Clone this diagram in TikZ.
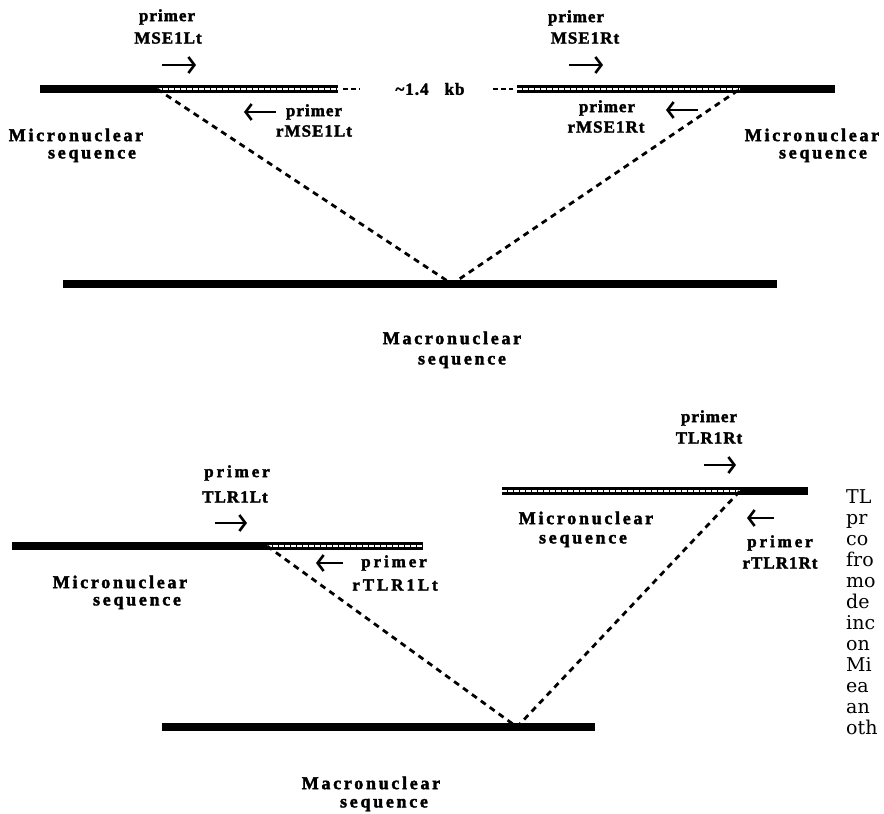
\documentclass[tikz,border=0pt]{standalone}
\usepackage{fontspec}
\usetikzlibrary{arrows.meta}
\setmainfont{Liberation Serif}
\newfontfamily\seqfont[LetterSpace=15, BoldFeatures={FakeBold=2}]{Liberation Serif}
\newfontfamily\prmfont[LetterSpace=6, BoldFeatures={FakeBold=2}]{Liberation Serif}
\newfontfamily\prmwfont[LetterSpace=17, BoldFeatures={FakeBold=2}]{Liberation Serif}
\newfontfamily\capfont{DejaVu Serif}

\begin{document}
\begin{tikzpicture}[x=1pt,y=-1pt,
    seq/.style={font=\seqfont\bfseries\fontsize{18}{21}\selectfont, inner sep=0pt},
    prm/.style={font=\prmfont\bfseries\fontsize{17}{20}\selectfont, inner sep=0pt},
    prmw/.style={font=\prmwfont\bfseries\fontsize{17}{20}\selectfont, inner sep=0pt},
    solidbar/.style={line width=8pt},
    hollowbar/.style={white, line width=2.2pt, dash pattern=on 4.5pt off 1.5pt,
      preaction={draw=black, solid, line width=7.5pt}},
    conn/.style={line width=2.8pt, dash pattern=on 6pt off 5pt},
    gapdash/.style={line width=2.2pt, dash pattern=on 5pt off 3pt},
    prarrow/.style={line width=2.6pt, -{Straight Barb[length=6pt, width=16pt, line width=2.6pt]}}]
\useasboundingbox (0,0) rectangle (884,814);

% upper picture
\coordinate (a1) at (40,89);
\coordinate (a2) at (157,89);
\coordinate (a3) at (338,89);
\coordinate (g1) at (343,89);
\coordinate (g2) at (360,89);
\coordinate (g3) at (493,89);
\coordinate (g4) at (513,89);
\coordinate (b1) at (517,89);
\coordinate (b2) at (740,89);
\coordinate (b3) at (835,89);
\coordinate (v1) at (452,284);
\coordinate (m1) at (63,284);
\coordinate (m2) at (777,284);

\draw[solidbar] (a1) -- (a2);
\draw[hollowbar] (a2) -- (a3);
\draw[gapdash] (g1) -- (g2);
\draw[gapdash] (g3) -- (g4);
\draw[hollowbar] (b1) -- (b2);
\draw[solidbar] (b2) -- (b3);
\draw[solidbar] (m1) -- (m2);
\draw[conn] (a2) -- (v1) -- (b2);

\node[prm] (kb) at (430,89) {\textasciitilde1.4\hspace{16pt}kb};

\node[prm] (p1) at (167,17) {primer};
\node[prm] (p1b) at (168,38) {MSE1Lt};
\coordinate (r1a) at (162,65);
\coordinate (r1b) at (196,65);
\draw[prarrow] (r1a) -- (r1b);

\node[prm] (p2) at (314,112) {primer};
\node[prm] (p2b) at (314,131) {rMSE1Lt};
\coordinate (r2a) at (276,112);
\coordinate (r2b) at (244,112);
\draw[prarrow] (r2a) -- (r2b);

\node[prm] (p3) at (576,18) {primer};
\node[prm] (p3b) at (585,38) {MSE1Rt};
\coordinate (r3a) at (569,65);
\coordinate (r3b) at (603,65);
\draw[prarrow] (r3a) -- (r3b);

\node[prm] (p4) at (607,108) {primer};
\node[prm] (p4b) at (606,127) {rMSE1Rt};
\coordinate (r4a) at (698,110);
\coordinate (r4b) at (666,110);
\draw[prarrow] (r4a) -- (r4b);

\node[seq] (s1) at (76,135) {Micronuclear};
\node[seq] (s1b) at (92,156) {sequence};
\node[seq] (s2) at (812,135) {Micronuclear};
\node[seq] (s2b) at (823,156) {sequence};
\node[seq] (s3) at (452,338) {Macronuclear};
\node[seq] (s3b) at (462,362) {sequence};

% lower picture
\coordinate (c1) at (12,546);
\coordinate (c2) at (267,546);
\coordinate (c3) at (423,546);
\coordinate (d1) at (502,491);
\coordinate (d2) at (740,491);
\coordinate (d3) at (808,491);
\coordinate (v2) at (517,727);
\coordinate (n1) at (162,727);
\coordinate (n2) at (595,727);

\draw[solidbar] (c1) -- (c2);
\draw[hollowbar] (c2) -- (c3);
\draw[hollowbar] (d1) -- (d2);
\draw[solidbar] (d2) -- (d3);
\draw[solidbar] (n1) -- (n2);
\draw[conn] (c2) -- (v2) -- (d2);

\node[prmw] (q1) at (237,473) {primer};
\node[prm] (q1b) at (235,497) {TLR1Lt};
\coordinate (t1a) at (215,523);
\coordinate (t1b) at (247,523);
\draw[prarrow] (t1a) -- (t1b);

\node[prmw] (q2) at (394,563) {primer};
\node[prmw] (q2b) at (395,585) {rTLR1Lt};
\coordinate (t2a) at (343,563);
\coordinate (t2b) at (316,563);
\draw[prarrow] (t2a) -- (t2b);

\node[prm] (q3) at (709,418) {primer};
\node[prm] (q3b) at (709,438) {TLR1Rt};
\coordinate (t3a) at (704,465);
\coordinate (t3b) at (736,465);
\draw[prarrow] (t3a) -- (t3b);

\node[prmw] (q4) at (780,543) {primer};
\node[prm] (q4b) at (780,563) {rTLR1Rt};
\coordinate (t4a) at (774,518);
\coordinate (t4b) at (747,518);
\draw[prarrow] (t4a) -- (t4b);

\node[seq] (s4) at (120,582) {Micronuclear};
\node[seq] (s4b) at (137,603) {sequence};
\node[seq] (s5) at (586,518) {Micronuclear};
\node[seq] (s5b) at (583,541) {sequence};
\node[seq] (s6) at (371,783) {Macronuclear};
\node[seq] (s6b) at (384,805) {sequence};

\node[anchor=north west, align=left, inner sep=0pt,
  font=\capfont\fontsize{19}{21}\selectfont] (cap) at (846,489)
  {TL\\pr\\co\\fro\\mo\\de\\inc\\on\\Mi\\ea\\an\\oth};
\end{tikzpicture}
\end{document}
